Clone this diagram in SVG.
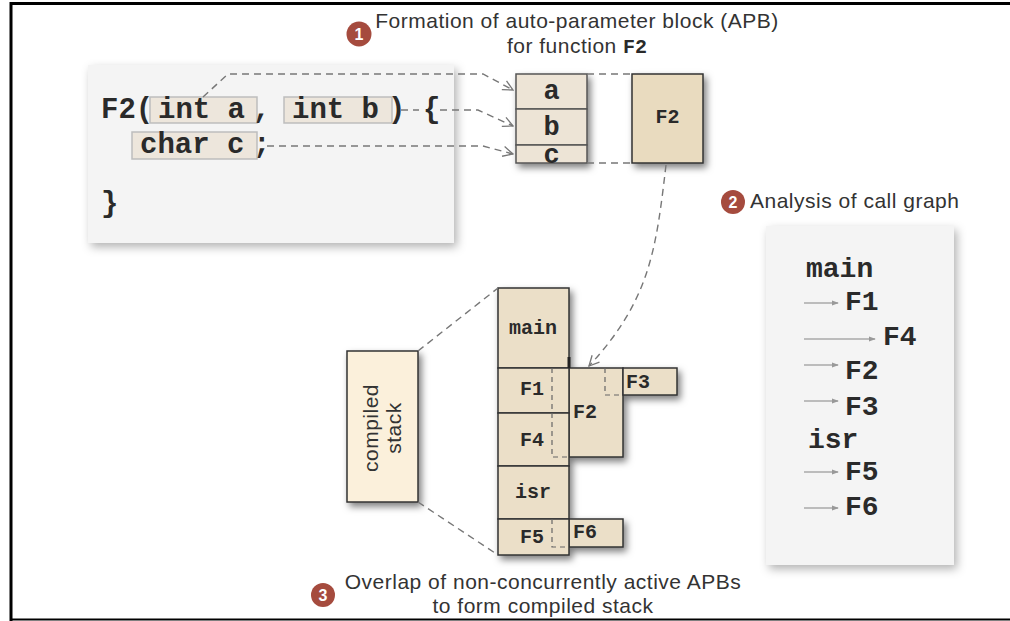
<svg xmlns="http://www.w3.org/2000/svg" width="1010" height="621" viewBox="0 0 1010 621">
<defs>
<filter id="sh" x="-20%" y="-20%" width="160%" height="160%">
<feDropShadow dx="3" dy="4" stdDeviation="3.5" flood-color="#000" flood-opacity="0.5"/>
</filter>
<filter id="shl" x="-10%" y="-10%" width="130%" height="130%">
<feDropShadow dx="3" dy="4" stdDeviation="5" flood-color="#000" flood-opacity="0.3"/>
</filter>
<marker id="open" viewBox="0 0 12 12" refX="11" refY="6" markerWidth="12" markerHeight="12" markerUnits="userSpaceOnUse" orient="auto">
<path d="M1 1 L11 6 L1 11" fill="none" stroke="#777" stroke-width="1.3"/>
</marker>
<marker id="tri" viewBox="0 0 8 8" refX="7" refY="4" markerWidth="7" markerHeight="7" markerUnits="userSpaceOnUse" orient="auto">
<path d="M0 1 L8 4 L0 7 Z" fill="#999"/>
</marker>
<style>
.title{font-family:"Liberation Sans",Arial,sans-serif;font-size:21px;letter-spacing:0.5px;fill:#333}
.mono{font-family:"Liberation Mono","Courier New",monospace;font-weight:bold;fill:#2a2a2a}
.code{font-size:29px}
.cg{font-size:28px}
.st{font-size:20px}
.panel{fill:#f4f4f4}
.hl{fill:#ede6dc;stroke:#bdbdbd;stroke-width:1.5}
.cell{fill:#ebdfc8;stroke:#333;stroke-width:1.5}
.apb{fill:#ede4d6;stroke:#555;stroke-width:1.5}
.dash{fill:none;stroke:#777;stroke-width:1.4;stroke-dasharray:7 5}
.idash{fill:none;stroke:#666;stroke-width:1.2;stroke-dasharray:5 4}
.cga{stroke:#aaa;stroke-width:1.3;marker-end:url(#tri)}
.badge{fill:#a54b3e}
.bnum{font-family:"Liberation Sans",Arial,sans-serif;font-weight:bold;font-size:16px;fill:#fff}
</style>
</defs>
<rect x="0" y="0" width="1010" height="621" fill="#fff"/>
<path d="M11 621 V3.5 H1010" fill="none" stroke="#000" stroke-width="3"/>
<line x1="11" y1="619.5" x2="1010" y2="619.5" stroke="#000" stroke-width="2"/>

<g id="title1">
<circle class="badge" cx="359" cy="34" r="12.5"/>
<text class="bnum" x="359" y="40" text-anchor="middle">1</text>
<text class="title" x="577" y="28" text-anchor="middle">Formation of auto-parameter block (APB)</text>
<text class="title" x="577" y="53" text-anchor="middle">for function <tspan class="mono" style="font-size:20px;letter-spacing:0">F2</tspan></text>
</g>

<g id="code">
<rect class="panel" x="88" y="65" width="366" height="178" filter="url(#shl)"/>
<rect class="hl" x="150" y="97" width="107" height="26"/>
<rect class="hl" x="284" y="97" width="108" height="26"/>
<rect class="hl" x="132" y="132" width="125" height="27"/>
<text class="mono code" x="101" y="118">F2(</text>
<text class="mono code" x="158" y="118">int a</text>
<text class="mono code" x="253" y="118">,</text>
<text class="mono code" x="292" y="118">int b</text>
<text class="mono code" x="388" y="118">)</text>
<text class="mono code" x="423" y="118">{</text>
<text class="mono code" x="140" y="153">char c</text>
<text class="mono code" x="253" y="153">;</text>
<text class="mono code" x="101" y="212">}</text>
</g>

<g id="apb" filter="url(#sh)">
<rect class="apb" x="516" y="74" width="71" height="35"/>
<rect class="apb" x="516" y="109" width="71" height="36"/>
<rect class="apb" x="516" y="145" width="71" height="18"/>
</g>
<g id="apb-text">
<text class="mono" style="font-size:27px" x="551.5" y="99" text-anchor="middle">a</text>
<text class="mono" style="font-size:27px" x="551.5" y="135" text-anchor="middle">b</text>
<text class="mono" style="font-size:27px" x="551.5" y="163" text-anchor="middle">c</text>
</g>

<g id="f2apb">
<rect x="632" y="74" width="71" height="89" fill="#e9dbbf" stroke="#333" stroke-width="1.5" filter="url(#sh)"/>
<text class="mono" style="font-size:20px" x="667.5" y="123" text-anchor="middle">F2</text>
</g>

<g id="title2">
<circle class="badge" cx="733" cy="202" r="12"/>
<text class="bnum" x="733" y="208" text-anchor="middle">2</text>
<text class="title" x="750" y="208">Analysis of call graph</text>
</g>

<g id="callgraph">
<rect class="panel" x="766" y="226" width="188" height="339" filter="url(#shl)"/>
<text class="mono cg" x="806" y="277">main</text>
<line class="cga" x1="804" y1="303" x2="838" y2="303"/>
<text class="mono cg" x="845" y="310">F1</text>
<line class="cga" x1="804" y1="339" x2="875" y2="339"/>
<text class="mono cg" x="883" y="345">F4</text>
<line class="cga" x1="804" y1="365" x2="838" y2="365"/>
<text class="mono cg" x="845" y="379">F2</text>
<line class="cga" x1="804" y1="401" x2="838" y2="401"/>
<text class="mono cg" x="845" y="415">F3</text>
<text class="mono cg" x="808" y="448">isr</text>
<line class="cga" x1="804" y1="472" x2="838" y2="472"/>
<text class="mono cg" x="845" y="480">F5</text>
<line class="cga" x1="804" y1="508" x2="838" y2="508"/>
<text class="mono cg" x="845" y="515">F6</text>
</g>

<g id="compiled">
<rect x="347" y="351" width="71" height="151" fill="#fbf0db" stroke="#333" stroke-width="1.5" filter="url(#sh)"/>
<text class="title" transform="translate(378,428) rotate(-90)" text-anchor="middle">compiled</text>
<text class="title" transform="translate(401,428) rotate(-90)" text-anchor="middle">stack</text>
</g>

<g id="stack">
<g filter="url(#sh)">
<rect class="cell" x="498" y="288" width="71" height="80"/>
<rect class="cell" x="569" y="368" width="54" height="89"/>
<rect class="cell" x="623" y="368" width="54" height="27"/>
<rect class="cell" x="498" y="368" width="71" height="45"/>
<rect class="cell" x="498" y="413" width="71" height="53"/>
<rect class="cell" x="498" y="466" width="71" height="53"/>
<rect class="cell" x="569" y="519" width="54" height="28"/>
<rect class="cell" x="498" y="519" width="71" height="36"/>
</g>
<line x1="569" y1="357" x2="569" y2="368" stroke="#222" stroke-width="3"/>
<path class="idash" d="M552 368 V457 H569"/>
<path class="idash" d="M605 368 V395 H623"/>
<path class="idash" d="M552 519 V547 H569"/>
<text class="mono st" x="533" y="334" text-anchor="middle">main</text>
<text class="mono st" x="520" y="395">F1</text>
<text class="mono st" x="520" y="446">F4</text>
<text class="mono st" x="533" y="498" text-anchor="middle">isr</text>
<text class="mono st" x="520" y="543">F5</text>
<text class="mono st" x="573" y="418">F2</text>
<text class="mono st" x="626" y="388">F3</text>
<text class="mono st" x="573" y="538">F6</text>
</g>

<g id="title3">
<circle class="badge" cx="323" cy="595" r="12"/>
<text class="bnum" x="323" y="601" text-anchor="middle">3</text>
<text class="title" x="543" y="589" text-anchor="middle">Overlap of non-concurrently active APBs</text>
<text class="title" x="543" y="613" text-anchor="middle">to form compiled stack</text>
</g>

<g id="connectors">
<path class="dash" d="M203 97 L228 74 H483 L513 90" marker-end="url(#open)"/>
<path class="dash" d="M401 110 H419"/>
<path class="dash" d="M440 110 H478 L513 126" marker-end="url(#open)"/>
<path class="dash" d="M267 146 H483 L513 154" marker-end="url(#open)"/>
<line class="dash" x1="587" y1="74" x2="632" y2="74"/>
<line class="dash" x1="587" y1="163" x2="632" y2="163"/>
<path class="dash" d="M666 165 C656 250, 650 300, 589 366" marker-end="url(#open)"/>
<line class="dash" x1="418" y1="351" x2="498" y2="288"/>
<line class="dash" x1="418" y1="502" x2="498" y2="555"/>
</g>
</svg>
